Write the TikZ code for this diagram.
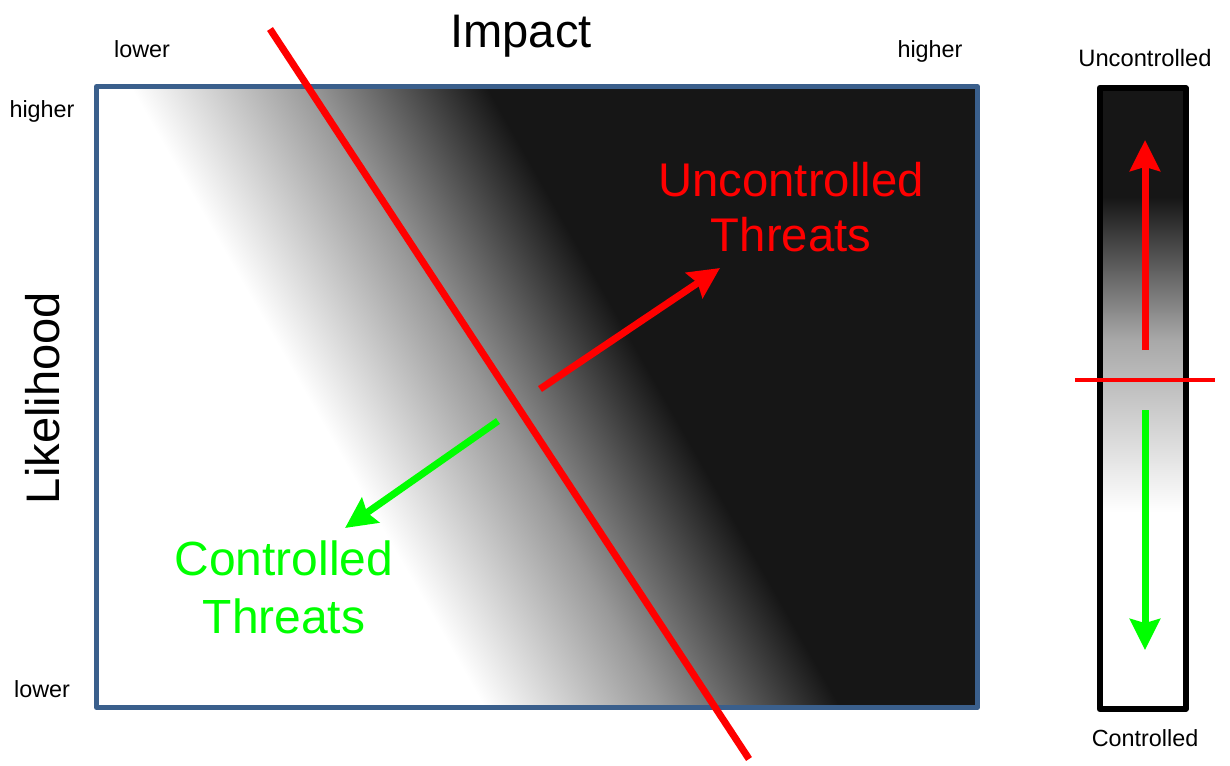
\documentclass[tikz,border=0pt]{standalone}
\usepackage{fontspec}
\setmainfont{Liberation Sans}
\usetikzlibrary{arrows.meta}
\definecolor{bandblack}{HTML}{161616}
\definecolor{bandmid}{gray}{0.6}
\definecolor{bargray}{gray}{0.66}
\definecolor{frameblue}{RGB}{58,95,140}
\definecolor{threatred}{RGB}{255,0,0}
\definecolor{threatgreen}{RGB}{0,255,0}
\pgfdeclarehorizontalshading{bandshade}{100bp}{color(0bp)=(white); color(43.55bp)=(white); color(50bp)=(bandmid); color(56.45bp)=(bandblack); color(100bp)=(bandblack)}
\pgfdeclareverticalshading{barshade}{100bp}{color(0bp)=(white); color(40.8bp)=(white); color(54.7bp)=(bargray); color(66.2bp)=(bandblack); color(100bp)=(bandblack)}
\begin{document}
\begin{tikzpicture}[x=0.02cm,y=-0.02cm,inner sep=0pt,outer sep=0pt,
bigtxt/.style={font=\fontsize{26.8}{32}\selectfont,anchor=base},
smalltxt/.style={font=\fontsize{13.3}{16}\selectfont,anchor=base},
threat/.style={line width=4pt,-{Stealth[length=17.6pt,width=17pt,inset=2.3pt]}}]

\useasboundingbox (0,0) rectangle (1230,765);

\begin{scope}
\clip (96.5,86.5) rectangle (977.5,707.5);
\begin{scope}[transform canvas={shift={(311.5,92)},rotate=29.7}]
\shade[shading=bandshade] (-600,-1000) rectangle (600,1000);
\end{scope}
\end{scope}
\draw[frameblue,line width=2.8pt,line join=round] (96.5,86.5) rectangle (977.5,707.5);

\shade[shading=barshade] (1099.7,88) rectangle (1185.7,709);
\draw[black,line width=3.4pt,line join=round] (1099.7,88) rectangle (1185.7,709);

\draw (521,47) node[bigtxt] (impact) {Impact};
\draw (142,57) node[smalltxt] (implow) {lower};
\draw (930,57) node[smalltxt] (imphigh) {higher};
\draw (42,117) node[smalltxt] (likhigh) {higher};
\draw (42,697) node[smalltxt] (liklow) {lower};
\draw (59,398) node[bigtxt,rotate=90] (likelihood) {Likelihood};
\draw (791,251.7) node[anchor=base,align=center,text=threatred,font=\fontsize{26.9}{31.2}\selectfont] (unctrl) {Uncontrolled\\Threats};
\draw (284,633.3) node[anchor=base,align=center,text=threatgreen,font=\fontsize{27.3}{33}\selectfont] (ctrl) {Controlled\\Threats};
\draw (1145,66.7) node[anchor=base,font=\fontsize{13.5}{16}\selectfont] (barup) {Uncontrolled};
\draw (1145,746.7) node[anchor=base,font=\fontsize{13.3}{16}\selectfont] (bardown) {Controlled};

\coordinate (cuttop) at (270,29);
\coordinate (cutbot) at (749,759);
\draw[threatred,line width=4pt] (cuttop) -- (cutbot);

\coordinate (uptail) at (540,389);
\coordinate (uptip) at (720,268);
\draw[threat,threatred] (uptail) -- (uptip);
\coordinate (downtail) at (498,421);
\coordinate (downtip) at (345,528);
\draw[threat,threatgreen] (downtail) -- (downtip);

\coordinate (barleft) at (1075,380.3);
\coordinate (barright) at (1215,380.3);
\draw[threatred,line width=2.3pt] (barleft) -- (barright);
\coordinate (barredtail) at (1145,350);
\coordinate (barredtip) at (1145,140);
\draw[threat,threatred] (barredtail) -- (barredtip);
\coordinate (bargreentail) at (1145,410);
\coordinate (bargreentip) at (1145,650);
\draw[threat,threatgreen] (bargreentail) -- (bargreentip);
\end{tikzpicture}
\end{document}
